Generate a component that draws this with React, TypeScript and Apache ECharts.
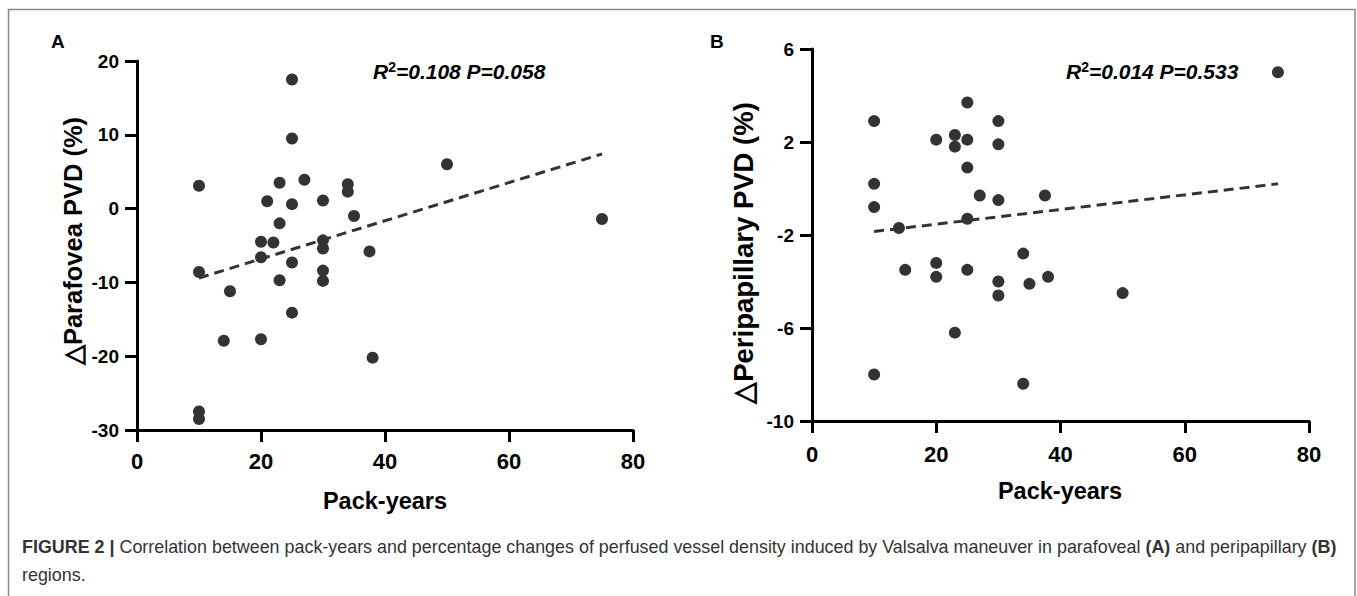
import React, { useEffect, useRef } from "react";
import * as echarts from "echarts";

// Panel A: pack-years vs Δ parafovea PVD (%)
const packYearsA = [25, 25, 10, 23, 27, 34, 34, 21, 25, 30, 35, 23, 20, 22, 30, 30, 37.5, 20, 25, 10, 15, 23, 30, 30, 25, 14, 20, 38, 10, 10, 50, 75];
const parafoveaPVD = [17.5, 9.5, 3.1, 3.5, 3.9, 3.3, 2.3, 1.0, 0.6, 1.1, -1.0, -2.0, -4.5, -4.6, -4.3, -5.4, -5.8, -6.6, -7.3, -8.6, -11.2, -9.7, -8.4, -9.8, -14.1, -17.9, -17.7, -20.2, -27.5, -28.5, 6.0, -1.4];
const fitA = [[10, -9.4], [75, 7.4]];

// Panel B: pack-years vs Δ peripapillary PVD (%)
const packYearsB = [10, 25, 30, 20, 23, 25, 23, 30, 25, 10, 27, 30, 37.5, 10, 25, 14, 34, 20, 15, 20, 25, 30, 30, 35, 38, 23, 10, 34, 75, 50];
const peripapillaryPVD = [2.9, 3.7, 2.9, 2.1, 2.3, 2.1, 1.8, 1.9, 0.9, 0.2, -0.3, -0.5, -0.3, -0.8, -1.3, -1.7, -2.8, -3.2, -3.5, -3.8, -3.5, -4.0, -4.6, -4.1, -3.8, -6.2, -8.0, -8.4, 5.0, -4.5];
const fitB = [[10, -1.85], [75, 0.2]];

const xTicks = { min: 0, max: 80, interval: 20 };
const yTicksA = { min: -30, max: 20, interval: 10 };
const yTicksB = { min: -10, max: 6, interval: 4 };

const statsA = "0.108 P=0.058";
const statsB = "0.014 P=0.533";
const xTitle = "Pack-years";
const yTitleA = "△Parafovea PVD (%)";
const yTitleB = "△Peripapillary PVD (%)";
const captionLine1 = "{b|FIGURE 2 |} Correlation between pack-years and percentage changes of perfused vessel density induced by Valsalva maneuver in parafoveal {b|(A)} and peripapillary {b|(B)}";
const captionLine2 = "regions.";

const FONT = "'Liberation Sans', Arial, Helvetica, sans-serif";
const DOT = "#333333";
const CAP = "#333333";

function xAxis(gridIndex: number, margin: number) {
  return {
    type: "value",
    gridIndex,
    ...xTicks,
    axisLine: { show: true, onZero: false, lineStyle: { color: "#000", width: 3 } },
    axisTick: { show: true, length: 12, lineStyle: { color: "#000", width: 3 } },
    axisLabel: { fontSize: 22, fontWeight: "bold", color: "#000", margin, fontFamily: FONT },
    splitLine: { show: false },
  };
}
function yAxis(gridIndex: number, ticks: any) {
  return {
    type: "value",
    gridIndex,
    ...ticks,
    axisLine: { show: true, onZero: false, lineStyle: { color: "#000", width: 3 } },
    axisTick: { show: true, length: 12, lineStyle: { color: "#000", width: 3 } },
    axisLabel: { fontSize: 19, fontWeight: "bold", color: "#000", margin: 18, fontFamily: FONT },
    splitLine: { show: false },
  };
}

function statText(x: number, y: number, s: string) {
  return {
    type: "text",
    left: x,
    top: y,
    style: {
      text: "{i|R}{s|2}{i|=" + s + "}",
      rich: {
        i: { fontSize: 21, fontWeight: "bold", fontStyle: "italic", fontFamily: FONT, fill: "#000", lineHeight: 22 },
        s: { fontSize: 14, fontWeight: "bold", fontFamily: FONT, fill: "#000", verticalAlign: "top", lineHeight: 13 },
      },
    },
  };
}

export default function App() {
  const ref = useRef<HTMLDivElement>(null);
  useEffect(() => {
    if (!ref.current) return;
    const chart = echarts.init(ref.current, undefined, { renderer: "svg" });
    const scatter = (xs: number[], ys: number[], i: number) => ({
      type: "scatter",
      xAxisIndex: i,
      yAxisIndex: i,
      symbolSize: 12,
      itemStyle: { color: DOT, opacity: 1 },
      data: xs.map((x, k) => [x, ys[k]]),
      z: 3,
    });
    const fit = (d: number[][], i: number) => ({
      type: "line",
      xAxisIndex: i,
      yAxisIndex: i,
      data: d,
      showSymbol: false,
      symbol: "none",
      lineStyle: { color: DOT, width: 3, type: [10, 6] },
      z: 2,
    });
    chart.setOption({
      animation: false,
      backgroundColor: "#fff",
      grid: [
        { left: 137, top: 61, width: 496, height: 369 },
        { left: 812, top: 49, width: 497, height: 372 },
      ],
      xAxis: [xAxis(0, 20), xAxis(1, 22)],
      yAxis: [yAxis(0, yTicksA), yAxis(1, yTicksB)],
      series: [
        fit(fitA, 0),
        scatter(packYearsA, parafoveaPVD, 0),
        fit(fitB, 1),
        scatter(packYearsB, peripapillaryPVD, 1),
      ],
      graphic: [
        {
          type: "polyline",
          shape: { points: [[8.5, 600], [8.5, 9.5], [1355, 9.5], [1355, 600]] },
          style: { stroke: "#8a8a8a", lineWidth: 1.5, fill: "none" },
          silent: true,
        },
        { type: "text", left: 51, top: 32, style: { text: "A", fontSize: 19, fontWeight: "bold", fontFamily: FONT, fill: "#000" } },
        { type: "text", left: 710, top: 32, style: { text: "B", fontSize: 19, fontWeight: "bold", fontFamily: FONT, fill: "#000" } },
        statText(373, 60, statsA),
        statText(1066, 60, statsB),
        {
          type: "text", x: 385, y: 501,
          style: { text: xTitle, fontSize: 23.5, fontWeight: "bold", fontFamily: FONT, fill: "#000", align: "center", verticalAlign: "middle" },
        },
        {
          type: "text", x: 1060, y: 491,
          style: { text: xTitle, fontSize: 23.5, fontWeight: "bold", fontFamily: FONT, fill: "#000", align: "center", verticalAlign: "middle" },
        },
        {
          type: "text", x: 73, y: 241, rotation: Math.PI / 2,
          style: { text: yTitleA, fontSize: 25.5, fontWeight: "bold", fontFamily: FONT, fill: "#000", align: "center", verticalAlign: "middle" },
        },
        {
          type: "text", x: 743, y: 253, rotation: Math.PI / 2,
          style: { text: yTitleB, fontSize: 27.5, fontWeight: "bold", fontFamily: FONT, fill: "#000", align: "center", verticalAlign: "middle" },
        },
        {
          type: "text", x: 22, y: 547,
          style: {
            text: captionLine1, fontSize: 17.9, fontFamily: FONT, fill: CAP, verticalAlign: "middle",
            rich: { b: { fontSize: 17.9, fontWeight: "bold", fontFamily: FONT, fill: CAP } },
          },
        },
        {
          type: "text", x: 22, y: 575,
          style: { text: captionLine2, fontSize: 17.9, fontFamily: FONT, fill: CAP, verticalAlign: "middle" },
        },
      ],
    });
    return () => chart.dispose();
  }, []);
  return (
    <div
      ref={ref}
      style={{ position: "fixed", left: 0, top: 0, width: 1357, height: 596, background: "#fff" }}
    />
  );
}
